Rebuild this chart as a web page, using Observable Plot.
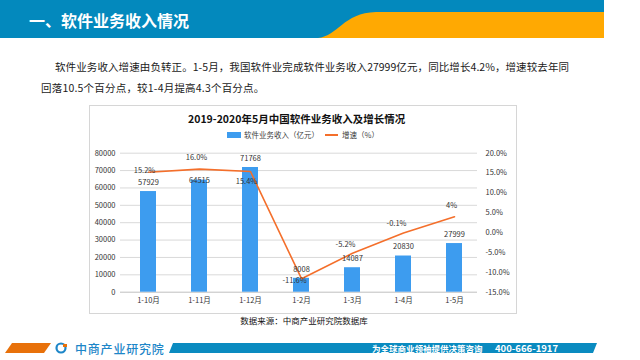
<!DOCTYPE html>
<html><head><meta charset="utf-8">
<script src="https://cdn.jsdelivr.net/npm/d3@7"></script>
<script src="https://cdn.jsdelivr.net/npm/@observablehq/plot@0.6"></script>
<style>
body{margin:0;width:640px;height:360px;position:relative;overflow:hidden;background:#fff;font-family:"Noto Sans CJK SC","Noto Sans",sans-serif;}
.abs{position:absolute;white-space:nowrap;}
#box{position:absolute;left:89px;top:105px;width:426px;height:207px;border:1px solid #d6d6d6;}
#chart{position:absolute;left:89px;top:140px;}
</style></head><body>
<svg class="abs" style="left:0;top:0" width="640" height="40">
  <rect x="0" y="0" width="604" height="38" fill="#0389bd"/>
  <path d="M318 38 C338 36 343 13 376 12 L604 12 L604 38 Z" fill="#ffa902"/>
</svg>
<div class="abs" style="left:29px;top:9px;font-size:16px;font-weight:bold;color:#fff;line-height:22px;">一、软件业务收入情况</div>
<div class="abs" style="left:55px;top:58px;width:514px;font-size:10.5px;color:#1a1a1a;line-height:18px;text-align:justify;text-align-last:justify;white-space:normal;">软件业务收入增速由负转正。1-5月，我国软件业完成软件业务收入27999亿元，同比增长4.2%，增速较去年同</div>
<div class="abs" style="left:41px;top:79px;font-size:10.5px;color:#1a1a1a;line-height:18px;letter-spacing:0.2px;">回落10.5个百分点，较1-4月提高4.3个百分点。</div>
<div id="box"></div>
<div class="abs" style="left:188px;top:111px;width:216px;text-align:center;font-size:10.5px;font-weight:bold;color:#111;line-height:16px;">2019-2020年5月中国软件业务收入及增长情况</div>
<div class="abs" style="left:227px;top:130px;font-size:7.5px;color:#404040;line-height:10px;display:flex;align-items:center;">
  <span style="display:inline-block;width:14px;height:6px;background:#3d9cef;margin-right:3px;"></span>
  <span>软件业务收入（亿元）</span>
  <span style="display:inline-block;width:13px;height:2px;background:#f46f2b;margin:0 4px 0 6px;"></span>
  <span>增速（%）</span>
</div>
<div id="chart"></div>
<div class="abs" style="left:239px;top:314px;width:130px;text-align:center;font-size:8.5px;color:#111;line-height:12px;">数据来源：中商产业研究院数据库</div>
<svg class="abs" style="left:0;top:340px" width="640" height="20">
  <path d="M12 3 L51 3 L44 13 L5 13 Z" fill="#e8710a"/>
  <path d="M173 3 L597 3 L593 13 L169 13 Z" fill="#0a8bc0"/>
  <circle cx="61" cy="8" r="4.5" fill="none" stroke="#1d86c8" stroke-width="2.2"/>
  <rect x="60" y="6" width="4" height="4" fill="#fff"/>
  <rect x="63" y="4" width="4" height="3" fill="#e8710a"/>
</svg>
<div class="abs" style="left:75px;top:341px;font-size:12px;font-weight:500;color:#1d86c8;line-height:15px;letter-spacing:0.8px;">中商产业研究院</div>
<div class="abs" style="left:372px;top:342px;font-size:8.5px;font-weight:bold;color:#fff;line-height:12px;">为全球商业领袖提供决策咨询</div>
<div class="abs" style="left:495px;top:342px;font-size:9.5px;font-weight:bold;color:#fff;line-height:12px;">400-666-1917</div>
<script>
const categories = ["1-10月","1-11月","1-12月","1-2月","1-3月","1-4月","1-5月"];
const revenue = [57929,64515,71768,8008,14087,20830,27999];
const growth = [15.2,16.0,15.4,-11.6,-5.2,-0.1,4];
const growthLabels = ["15.2%","16.0%","15.4%","-11.6%","-5.2%","-0.1%","4%"];
const leftTicks = [0,10000,20000,30000,40000,50000,60000,70000,80000];
const rightTicks = [-15,-10,-5,0,5,10,15,20];
const rightTickLabels = ["-15.0%","-10.0%","-5.0%","0.0%","5.0%","10.0%","15.0%","20.0%"];
// label placement keywords (layout only)
const lineLabelPlace = ["center","top","bottom-left","left","top-left","top-left","top"];
const barLabelPlace = ["above","edge","above","above","above","above","above"];

const pctMin = -15, pctMax = 20, revMax = 80000;
const pctToY = p => (p - pctMin) / (pctMax - pctMin) * revMax;
const data = categories.map((c,i)=>({cat:c, rev:revenue[i], g:growth[i], gl:growthLabels[i]}));
const placeOffsets = {
  "center":[-4,-2], "top":[-3,-11], "bottom-left":[-4,10], "left":[-7,2], "top-left":[-7,-9]
};
const barOff = {"above":-9, "edge":0};

const marks = [
  Plot.gridY(leftTicks.filter(t=>t>0), {stroke:"#d9d9d9", strokeOpacity:1}),
  Plot.ruleY([0], {stroke:"#bfbfbf"}),
  Plot.barY(data, {x:"cat", y:"rev", fill:"#3d9cef"}),
  Plot.line(data, {x:"cat", y:d=>pctToY(d.g), stroke:"#f46f2b", strokeWidth:1.6}),
  ...data.map((d,i)=>Plot.text([d], {x:"cat", y:"rev", text:d=>String(d.rev), dy:barOff[barLabelPlace[i]], fill:"#333"})),
  ...data.map((d,i)=>Plot.text([d], {x:"cat", y:e=>pctToY(e.g), text:"gl", dx:placeOffsets[lineLabelPlace[i]][0], dy:placeOffsets[lineLabelPlace[i]][1], fill:"#333"})),
  Plot.axisY({ticks:leftTicks, anchor:"left", tickSize:0, tickPadding:5, tickFormat:d=>String(d), label:null, fill:"#333"}),
  Plot.axisY({ticks:rightTicks.map(pctToY), anchor:"right", tickSize:0, tickPadding:8, tickFormat:(d,i)=>rightTickLabels[i], label:null, fill:"#333"}),
  Plot.axisX({tickSize:0, tickPadding:5, label:null, fill:"#333"})
];

const chart = Plot.plot({
  width:427, height:170,
  marginLeft:31, marginRight:39, marginTop:12.7, marginBottom:18.3,
  x:{domain:categories, range:[31,392], paddingInner:0.69, paddingOuter:0.345, align:0.5},
  y:{domain:[0,revMax]},
  style:{fontFamily:'"Noto Sans CJK SC","Noto Sans",sans-serif', fontSize:"7.5px", background:"transparent", color:"#333", overflow:"visible"},
  marks
});
document.getElementById("chart").appendChild(chart);
</script>
</body></html>
